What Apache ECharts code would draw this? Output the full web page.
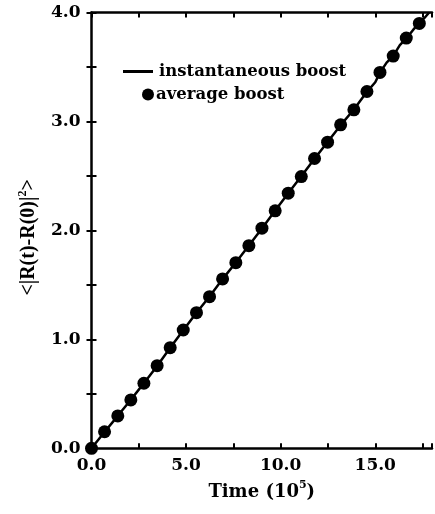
<!DOCTYPE html>
<html><head><meta charset="utf-8">
<script src="https://cdn.jsdelivr.net/npm/echarts@6/dist/echarts.min.js"></script>
<style>html,body{margin:0;padding:0;background:#fff}#c{width:435px;height:514px}</style>
</head><body><div id="c"></div>
<script>
// average boost (dots)
const avgX = [0, 0.69, 1.39, 2.08, 2.77, 3.47, 4.16, 4.85, 5.55, 6.24, 6.93, 7.63, 8.32, 9.01, 9.71, 10.40, 11.09, 11.79, 12.48, 13.17, 13.87, 14.56, 15.25, 15.95, 16.64, 17.33];
const avgY = [0, 0.152, 0.297, 0.444, 0.597, 0.758, 0.924, 1.086, 1.245, 1.392, 1.555, 1.704, 1.860, 2.020, 2.180, 2.342, 2.494, 2.660, 2.810, 2.969, 3.107, 3.275, 3.450, 3.600, 3.765, 3.900];
// instantaneous boost (line)
const instX = [0, 0.69, 1.39, 2.08, 2.77, 3.47, 4.16, 4.85, 5.55, 6.24, 6.93, 7.63, 8.32, 9.01, 9.71, 10.40, 11.09, 11.79, 12.48, 13.17, 13.87, 14.56, 15.0, 15.25, 15.6, 15.95, 16.3, 16.64, 17.0, 17.33, 17.6, 17.85];
const instY = [0, 0.150, 0.298, 0.446, 0.598, 0.756, 0.922, 1.084, 1.244, 1.394, 1.553, 1.706, 1.862, 2.018, 2.182, 2.340, 2.496, 2.658, 2.812, 2.966, 3.110, 3.272, 3.36, 3.448, 3.54, 3.602, 3.70, 3.762, 3.84, 3.905, 3.95, 4.0];
const xTicks = ['0.0', '5.0', '10.0', '15.0'];
const yTicks = ['0.0', '1.0', '2.0', '3.0', '4.0'];

const wide = 'DejaVu Serif';
const serif = 'Liberation Serif';
const chart = echarts.init(document.getElementById('c'), null, {renderer: 'canvas'});
const axCommon = {
  axisLine: {show: true, onZero: false, lineStyle: {color: '#000', width: 2.5}},
  axisTick: {show: true, inside: true, length: 5, lineStyle: {color: '#000', width: 2}},
  splitLine: {show: false}
};
chart.setOption({
  animation: false,
  grid: {left: 91.5, width: 345.5, top: 12.5, height: 435.8, containLabel: false},
  legend: [
    {data: [{name: 'instantaneous boost', icon: 'rect'}], left: 118, top: 58, itemWidth: 30, itemHeight: 3, itemGap: 0,
     textStyle: {fontFamily: wide, fontWeight: 'bold', fontSize: 16.5, color: '#000', padding: [0, 0, 0, 1]}},
    {data: [{name: 'average boost', icon: 'circle'}], left: 137, top: 81, itemWidth: 12, itemHeight: 12, itemGap: 0,
     textStyle: {fontFamily: wide, fontWeight: 'bold', fontSize: 16.5, color: '#000', padding: [0, 0, 0, -3]}}
  ],
  xAxis: [
    Object.assign({type: 'value', min: 0, max: 18, interval: 2.5, position: 'bottom',
      name: '{a|Time (10}{s|5}{a|)}', nameLocation: 'middle', nameGap: 29,
      nameTextStyle: {rich: {
        a: {fontFamily: wide, fontWeight: 'bold', fontSize: 18, color: '#000', lineHeight: 22, verticalAlign: 'bottom'},
        s: {fontFamily: wide, fontWeight: 'bold', fontSize: 11, color: '#000', lineHeight: 22, verticalAlign: 'top'}}},
      axisLabel: {margin: 9, fontFamily: wide, fontWeight: 'bold', fontSize: 17, color: '#000',
        formatter: v => { const i = xTicks.indexOf(v.toFixed(1)); return (Math.abs(v % 5) < 1e-9 && i >= 0) ? xTicks[i] : ''; }}
    }, axCommon),
    Object.assign({type: 'value', min: 0, max: 18, interval: 2.5, position: 'top', axisLabel: {show: false}}, axCommon)
  ],
  yAxis: [
    Object.assign({type: 'value', min: 0, max: 4, interval: 0.5, position: 'left',
      name: '{a|<|R(t)-R(0)|}{s|2}{a|>}', nameLocation: 'middle', nameGap: 53, nameRotate: 90,
      nameTextStyle: {padding: [0, 14, 0, 0], rich: {
        a: {fontFamily: serif, fontWeight: 'bold', fontSize: 20, color: '#000', lineHeight: 22, verticalAlign: 'bottom'},
        s: {fontFamily: serif, fontWeight: 'bold', fontSize: 12, color: '#000', lineHeight: 22, verticalAlign: 'top'}}},
      axisLabel: {margin: 11, fontFamily: wide, fontWeight: 'bold', fontSize: 17, color: '#000',
        formatter: v => { const i = yTicks.indexOf(v.toFixed(1)); return (Math.abs(v % 1) < 1e-9 && i >= 0) ? yTicks[i] : ''; }}
    }, axCommon),
    Object.assign({type: 'value', min: 0, max: 4, interval: 0.5, position: 'right', axisLabel: {show: false}}, axCommon,
      {axisLine: {show: false}})
  ],
  series: [
    {name: 'instantaneous boost', type: 'line', data: instX.map((x, i) => [x, instY[i]]),
     showSymbol: false, symbol: 'none', lineStyle: {color: '#000', width: 2.5}, itemStyle: {color: '#000'}, z: 2},
    {name: 'average boost', type: 'scatter', data: avgX.map((x, i) => [x, avgY[i]]),
     symbol: 'circle', symbolSize: 13, itemStyle: {color: '#000', opacity: 1}, z: 3}
  ]
});
</script></body></html>
